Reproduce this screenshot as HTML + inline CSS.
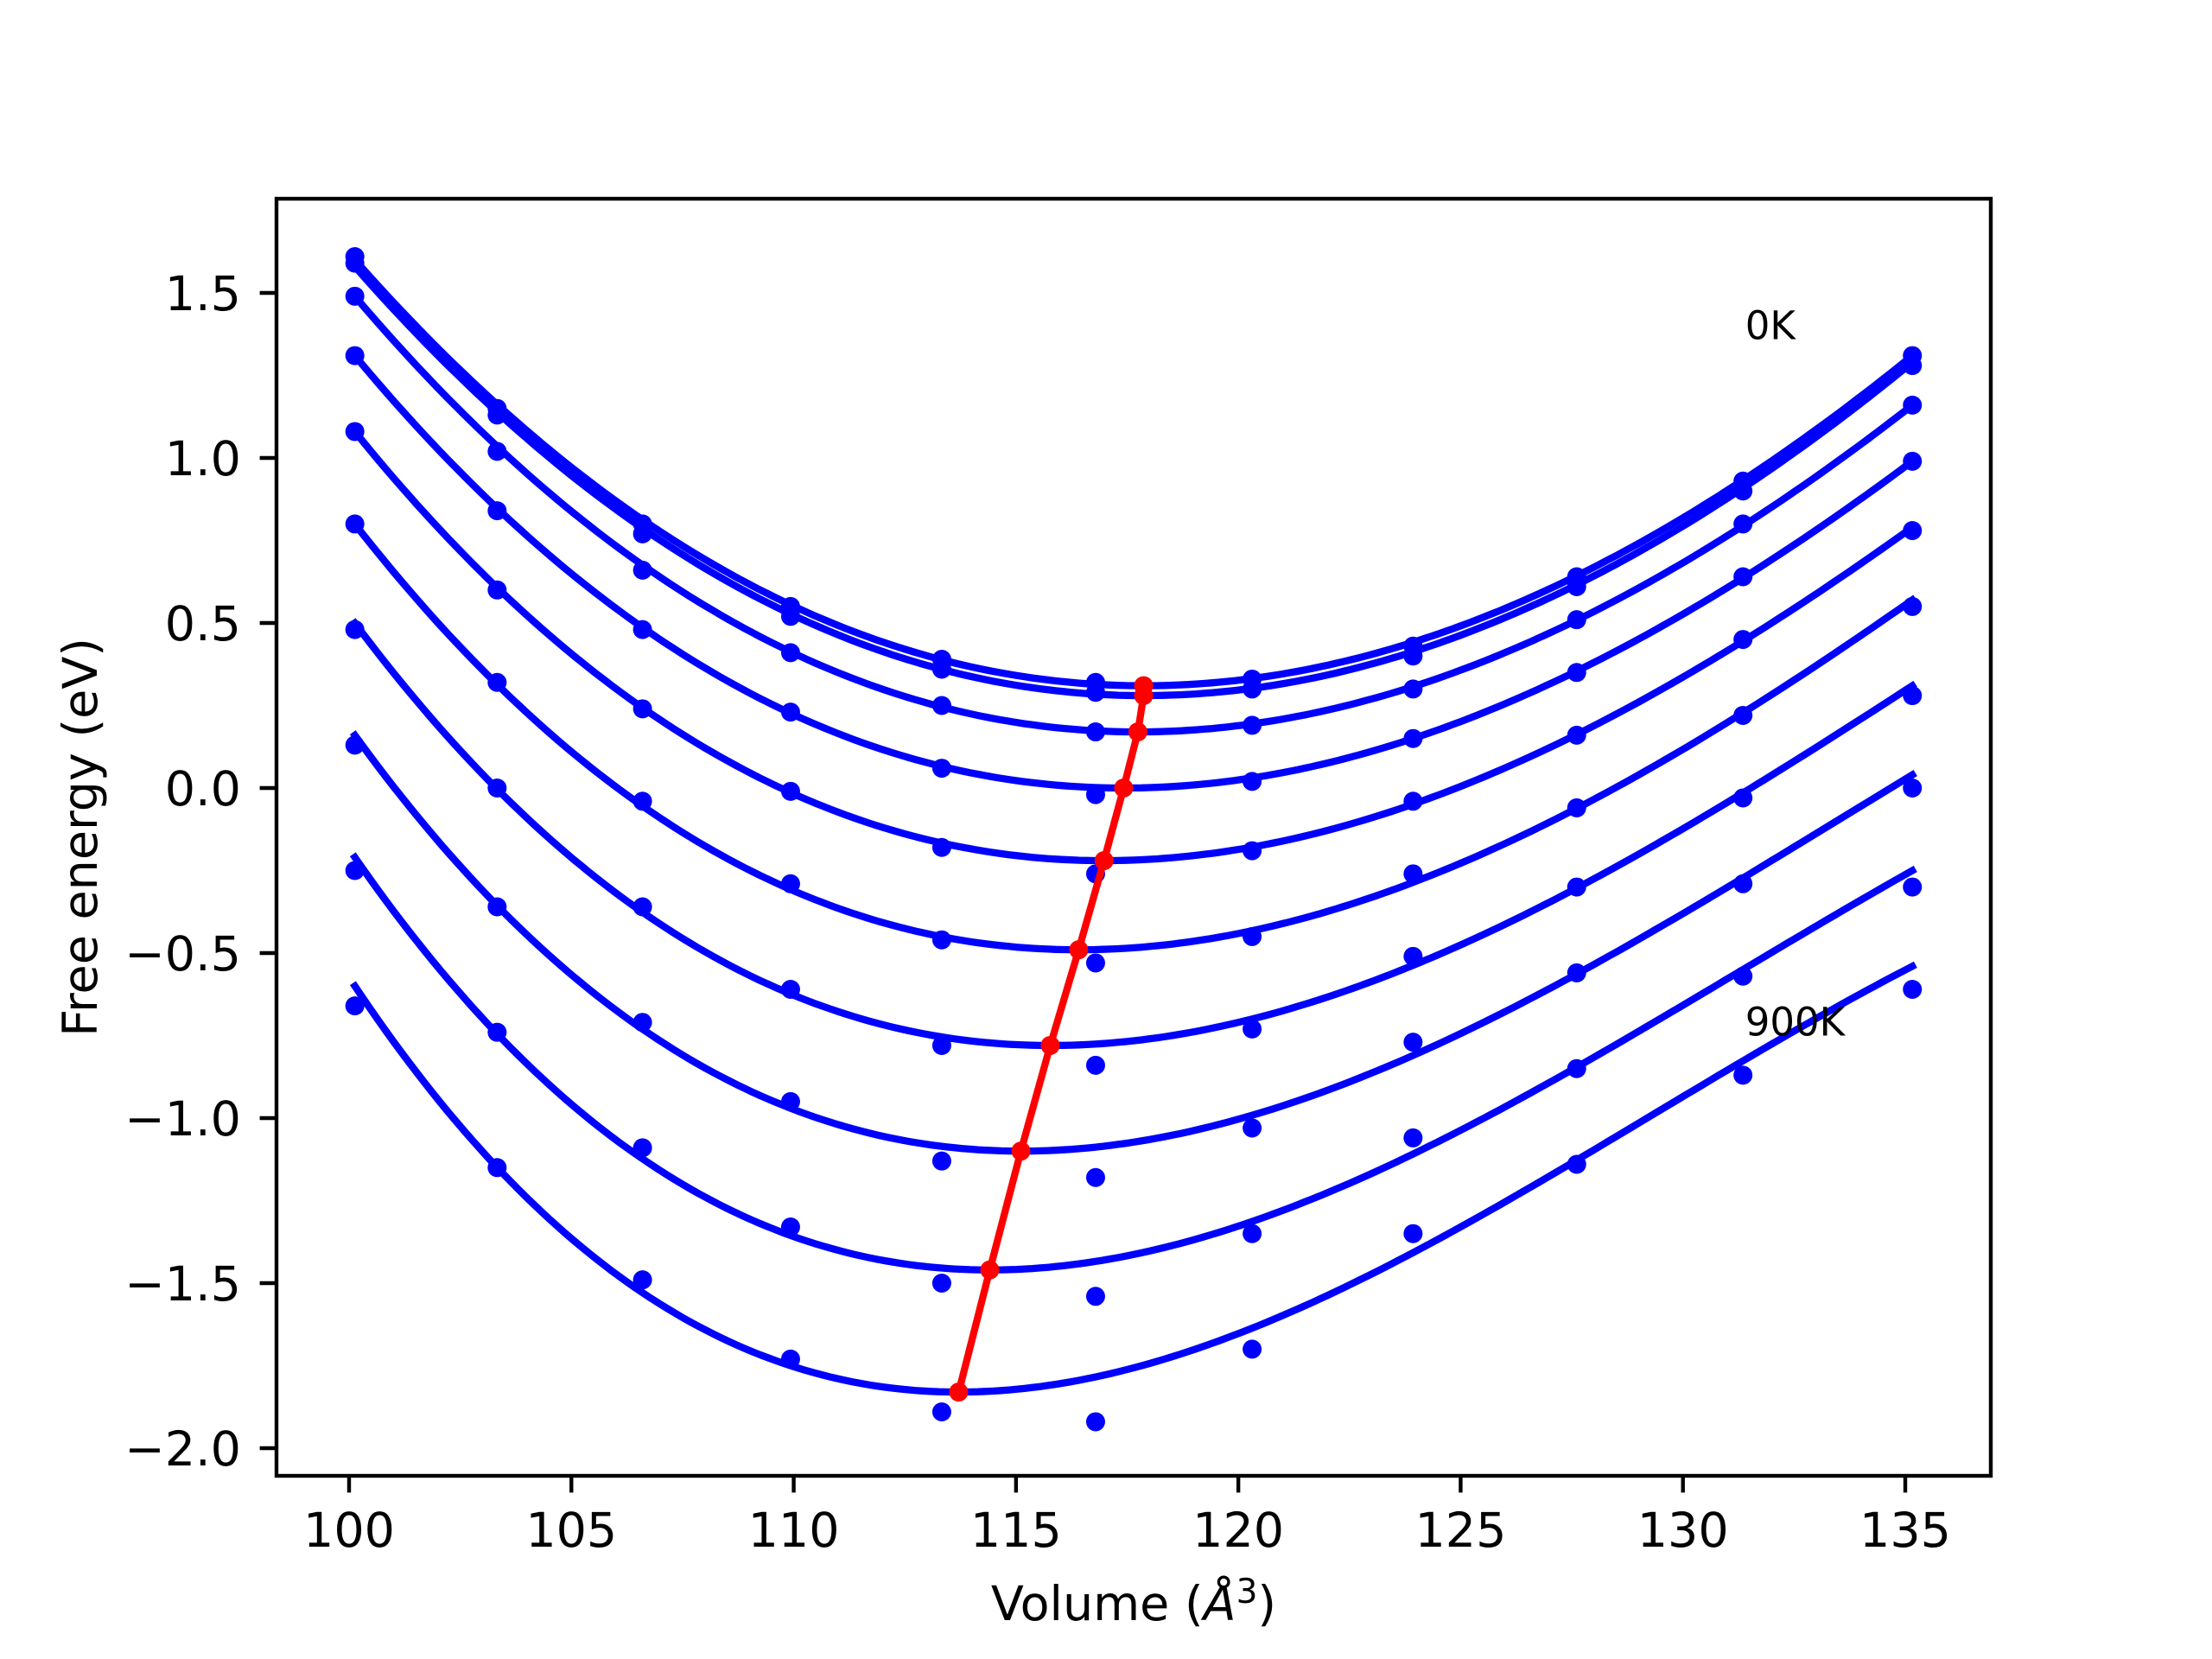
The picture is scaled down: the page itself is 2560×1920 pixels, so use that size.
<!DOCTYPE html>
<html><head><meta charset="utf-8"><style>
html,body{margin:0;padding:0;background:#fff;}
svg{display:block;}
text{font-family:"DejaVu Sans","Liberation Sans",sans-serif;fill:#000;}
</style></head><body>
<svg id="chart" width="2560" height="1920" viewBox="0 0 2560 1920" xmlns="http://www.w3.org/2000/svg">
<rect x="0" y="0" width="2560" height="1920" fill="#fff"/>
<g id="plot"></g>
<g id="axes"></g>
</svg>
<script>
const volumes = [100.13, 103.33, 106.6, 109.93, 113.33, 116.79, 120.31, 123.93, 127.61, 131.35, 135.16];
const energies0K = [1.61, 1.15, 0.80, 0.55, 0.39, 0.32, 0.33, 0.43, 0.64, 0.93, 1.31];
const energies100K = [1.59, 1.13, 0.77, 0.52, 0.36, 0.29, 0.30, 0.40, 0.61, 0.90, 1.28];
const energies200K = [1.49, 1.02, 0.66, 0.41, 0.25, 0.17, 0.19, 0.30, 0.51, 0.80, 1.16];
const energies300K = [1.31, 0.84, 0.48, 0.23, 0.06, -0.02, 0.02, 0.15, 0.35, 0.64, 0.99];
const energies400K = [1.08, 0.60, 0.24, -0.01, -0.18, -0.26, -0.19, -0.04, 0.16, 0.45, 0.78];
const energies500K = [0.80, 0.32, -0.04, -0.29, -0.46, -0.53, -0.45, -0.26, -0.06, 0.22, 0.55];
const energies600K = [0.48, -0.00, -0.36, -0.61, -0.78, -0.84, -0.73, -0.51, -0.30, -0.03, 0.28];
const energies700K = [0.13, -0.36, -0.71, -0.95, -1.13, -1.18, -1.03, -0.77, -0.56, -0.29, 0.00];
const energies800K = [-0.25, -0.74, -1.09, -1.33, -1.50, -1.54, -1.35, -1.06, -0.85, -0.57, -0.30];
const energies900K = [-0.66, -1.15, -1.49, -1.73, -1.89, -1.92, -1.70, -1.35, -1.14, -0.87, -0.61];
const allEnergies = [energies0K, energies100K, energies200K, energies300K, energies400K, energies500K, energies600K, energies700K, energies800K, energies900K];
// fitted equilibrium points (V0, E0)
const eqVolumes = [117.87, 117.87, 117.74, 117.42, 116.98, 116.41, 115.77, 115.11, 114.41, 113.71];
const eqEnergies = [0.31, 0.28, 0.17, 0.00, -0.22, -0.49, -0.78, -1.10, -1.46, -1.83];
// fitted curve endpoint values at first/last volume
const fitLeft = [1.60, 1.58, 1.49, 1.31, 1.08, 0.80, 0.50, 0.16, -0.21, -0.60];
const fitRight = [1.31, 1.29, 1.16, 0.99, 0.79, 0.57, 0.31, 0.04, -0.25, -0.54];
const xTicks = [100, 105, 110, 115, 120, 125, 130, 135];
const yTicks = [-2.0, -1.5, -1.0, -0.5, 0.0, 0.5, 1.0, 1.5];

const AX = {l:320, r:2304, t:230, b:1708};
const XMIN = 100 - 84/51.46, XMAX = 135 + 99/51.46;
const YMIN = -2.0 - 32/382, YMAX = 1.5 + 109/382;
function sx(v){ return AX.l + (v - XMIN) / (XMAX - XMIN) * (AX.r - AX.l); }
function sy(v){ return AX.b - (v - YMIN) / (YMAX - YMIN) * (AX.b - AX.t); }
const NS = 'http://www.w3.org/2000/svg';
function mk(tag, attrs, parent){ const e = document.createElementNS(NS, tag); for (const k in attrs) e.setAttribute(k, attrs[k]); parent.appendChild(e); return e; }
const plot = document.getElementById('plot');
const axes = document.getElementById('axes');
const defs = mk('defs', {}, plot);
const cp = mk('clipPath', {id:'clip'}, defs);
mk('rect', {x:AX.l, y:AX.t, width:AX.r-AX.l, height:AX.b-AX.t}, cp);
const inner = mk('g', {'clip-path':'url(#clip)'}, plot);

// fitted curves
for (let i = 0; i < allEnergies.length; i++) {
  const V0 = eqVolumes[i], E0 = eqEnergies[i];
  const v1 = volumes[0], v2 = volumes[volumes.length-1];
  const d1 = v1 - V0, d2 = v2 - V0, L = fitLeft[i] - E0, R = fitRight[i] - E0;
  const det = d1*d1*d2*d2*d2 - d1*d1*d1*d2*d2;
  const a = (L*d2*d2*d2 - R*d1*d1*d1) / det;
  const b = (d1*d1*R - d2*d2*L) / det;
  let pts = [];
  for (let k = 0; k <= 200; k++) {
    const v = v1 + (v2 - v1) * k / 200, d = v - V0;
    pts.push(sx(v).toFixed(1) + ',' + sy(E0 + a*d*d + b*d*d*d).toFixed(1));
  }
  const pl = mk('polyline', {points:pts.join(' '), fill:'none', stroke:'#0000ff', 'stroke-width':8.3, 'stroke-linejoin':'round', 'stroke-linecap':'square'}, inner);
  
  
}
// data points
for (let i = 0; i < allEnergies.length; i++) {
  for (let j = 0; j < volumes.length; j++) {
    const c = mk('circle', {cx:sx(volumes[j]), cy:sy(allEnergies[i][j]), r:11, fill:'#0000ff'}, inner);
    
    
  }
}
// equilibrium line
const eqPts = eqVolumes.map((v, i) => sx(v).toFixed(1) + ',' + sy(eqEnergies[i]).toFixed(1)).join(' ');
const eqLine = mk('polyline', {points:eqPts, fill:'none', stroke:'#ff0000', 'stroke-width':8.3, 'stroke-linejoin':'round'}, inner);


for (let i = 0; i < eqVolumes.length; i++) {
  const c = mk('circle', {cx:sx(eqVolumes[i]), cy:sy(eqEnergies[i]), r:11, fill:'#ff0000'}, inner);
  
  
}
// annotations
const t0 = mk('text', {x:sx(131.4), y:sy(1.36), 'font-size':45}, plot);
t0.textContent = '0K';


const t9 = mk('text', {x:sx(131.4), y:sy(-0.75), 'font-size':45}, plot);
t9.textContent = '900K';



// axes frame
const frame = mk('rect', {x:AX.l, y:AX.t, width:AX.r-AX.l, height:AX.b-AX.t, fill:'none', stroke:'#000', 'stroke-width':4.4}, axes);


for (const t of xTicks) {
  const x = sx(t);
  const ln = mk('line', {x1:x, y1:AX.b, x2:x, y2:AX.b+19.4, stroke:'#000', 'stroke-width':4.4}, axes);
  
  
  const tx = mk('text', {x:x, y:1790, 'font-size':55.5, 'text-anchor':'middle'}, axes);
  tx.textContent = String(t);
  
  
}
for (const t of yTicks) {
  const y = sy(t);
  const ln = mk('line', {x1:AX.l-19.4, y1:y, x2:AX.l, y2:y, stroke:'#000', 'stroke-width':4.4}, axes);
  
  
  const tx = mk('text', {x:279, y:y+20, 'font-size':55.5, 'text-anchor':'end'}, axes);
  tx.textContent = (t < 0 ? '\u2212' : '') + Math.abs(t).toFixed(1);
  
  
}
const xl = mk('text', {x:1312, y:1875, 'font-size':55.5, 'text-anchor':'middle'}, axes);
xl.innerHTML = 'Volume (<tspan font-style="italic">Å</tspan><tspan font-size="39" dy="-20">3</tspan><tspan dy="20">)</tspan>';


const yl = mk('text', {x:0, y:0, 'font-size':55.5, 'text-anchor':'middle', transform:'translate(112,969) rotate(-90)'}, axes);
yl.textContent = 'Free energy (eV)';


</script>
</body></html>
